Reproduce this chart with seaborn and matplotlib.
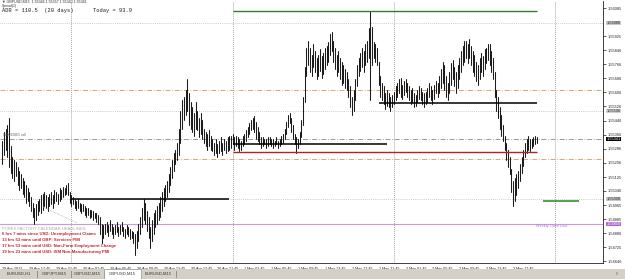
import numpy as np
import pandas as pd
import matplotlib
matplotlib.use("Agg")
import matplotlib.pyplot as plt
import seaborn as sns
from matplotlib.patches import Rectangle
from matplotlib.transforms import blended_transform_factory

# ---------------- data (GBPUSD M15, prices as pips above 1.5400) ----------------
BASE_PRICE = 1.5400
PIP = 0.0001

low_pips = [
    120, 125, 128, 124, 118, 115, 112, 110, 113, 108,
    105, 106, 103, 101, 98, 99, 96, 93, 90, 86,
    88, 91, 93, 92, 94, 96, 95, 93, 96, 97,
    95, 98, 99, 97, 99, 100, 101, 102, 103, 102,
    98, 96, 97, 95, 94, 95, 93, 92, 93, 91,
    90, 91, 89, 90, 88, 89, 87, 86, 80, 75,
    78, 80, 81, 79, 82, 80, 78, 80, 81, 79,
    80, 82, 79, 78, 80, 79, 77, 78, 75, 68,
    72, 76, 80, 84, 88, 86, 82, 78, 72, 76,
    80, 84, 86, 88, 90, 93, 96, 99, 101, 104,
    108, 112, 116, 120, 122, 125, 132, 140, 145, 148,
    150, 142, 140, 138, 136, 140, 139, 135, 137, 134,
    132, 130, 128, 130, 128, 127, 125, 126, 124, 126,
    127, 125,
    128, 126, 127, 128, 129, 131, 128, 130, 129, 127,
    128, 130, 131, 133, 135, 137, 139, 140, 138, 134,
    133, 131, 129, 130, 131, 129, 130, 131, 130, 129,
    130, 131, 129, 130, 131, 132, 134, 137, 141, 143,
    138, 134, 131, 126, 129, 131, 135, 142, 155, 170,
    176, 172, 170, 175, 172, 168, 170, 173, 169, 171,
    174, 176, 178, 182, 184, 178, 174, 170, 172, 168,
    165, 166, 163, 162, 158, 152, 148, 150, 156, 164,
    170, 173, 175, 172, 176, 178, 180, 156, 176, 180,
    178, 176, 165, 158, 156, 154, 151, 153, 152, 150,
    152, 154, 156, 158, 160, 158, 157, 159, 161, 158,
    156, 154, 155, 152, 153, 155, 157, 156, 154, 152,
    154,
    155, 158, 156, 154, 157, 160, 158, 160, 163, 166,
    162, 158, 156, 160, 165, 168, 164, 160, 163, 168,
    172, 176, 178, 180, 177, 180, 176, 172, 170, 167,
    165, 168, 172, 170, 174, 177, 179, 176, 172, 168,
    158, 150, 146, 140, 136, 133, 128, 122, 118, 114,
    104, 96, 99, 102, 106, 110, 115, 119, 124, 126,
    128, 127, 129, 130, 131, 132,
]

high_pips = [
    133, 138, 140, 142, 146, 130, 124, 122, 121, 118,
    116, 114, 112, 110, 108, 106, 104, 101, 98, 95,
    97, 99, 100, 102, 103, 104, 102, 101, 103, 104,
    102, 105, 104, 103, 106, 105, 107, 106, 108, 109,
    104, 102, 101, 100, 99, 100, 98, 97, 97, 96,
    95, 95, 94, 94, 93, 92, 92, 91, 90, 86,
    85, 86, 87, 85, 88, 86, 84, 85, 87, 84,
    85, 87, 84, 83, 85, 84, 83, 82, 81, 80,
    82, 86, 90, 95, 100, 98, 93, 90, 84, 88,
    92, 94, 96, 98, 101, 104, 106, 108, 110, 114,
    118, 122, 126, 128, 132, 140, 150, 156, 158, 162,
    168, 160, 155, 152, 149, 155, 150, 146, 149, 145,
    140, 138, 137, 139, 136, 134, 132, 134, 131, 133,
    135, 132,
    134, 133, 135, 136, 136, 137, 135, 136, 135, 134,
    133, 136, 137, 139, 141, 143, 145, 146, 147, 144,
    141, 138, 135, 135, 134, 134, 135, 135, 134, 134,
    133, 135, 133, 134, 136, 137, 140, 144, 148, 149,
    146, 142, 137, 135, 134, 138, 145, 158, 175, 186,
    190, 186, 182, 188, 184, 180, 182, 185, 181, 183,
    186, 187, 189, 194, 195, 190, 186, 182, 184, 180,
    178, 176, 174, 172, 168, 164, 158, 162, 168, 176,
    180, 183, 186, 184, 188, 190, 197, 207, 198, 189,
    188, 186, 178, 170, 166, 164, 160, 162, 160, 158,
    159, 161, 164, 166, 168, 169, 165, 167, 168, 166,
    164, 162, 163, 160, 159, 162, 164, 163, 161, 160,
    161,
    163, 166, 164, 162, 165, 167, 166, 170, 174, 178,
    176, 170, 166, 172, 177, 179, 175, 172, 176, 180,
    184, 187, 190, 190, 188, 191, 187, 184, 182, 178,
    176, 180, 183, 181, 185, 186, 188, 188, 184, 180,
    172, 162, 158, 152, 148, 142, 136, 132, 128, 124,
    117, 110, 112, 114, 116, 120, 124, 128, 132, 134,
    136, 134, 134, 135, 136, 135,
]

time_label_bars = [0, 16, 32, 48, 64, 80, 96, 112, 128, 144,
                   160, 176, 192, 208, 224, 240, 256, 272, 288, 304]
time_labels = ["29 Apr 2013", "29 Apr 17:45", "29 Apr 21:45", "30 Apr 01:45",
               "30 Apr 05:45", "30 Apr 09:45", "30 Apr 13:45", "30 Apr 17:45",
               "30 Apr 21:45", "1 May 01:45", "1 May 05:45", "1 May 09:45",
               "1 May 13:45", "1 May 17:45", "1 May 21:45", "2 May 01:45",
               "2 May 05:45", "2 May 09:45", "2 May 13:45", "2 May 17:45"]
day_start_bars = [41, 137, 233, 329]

# 1.56005 sits under the highlighted 1.56000 box in the reference, so it is not listed
price_ticks = [1.56085, 1.55925, 1.55846, 1.55766, 1.55686, 1.55606,
               1.55526, 1.55446, 1.55366, 1.55286, 1.55206, 1.55125, 1.55046,
               1.54965, 1.54885, 1.54806, 1.54725, 1.54646]
price_tick_labels = ["%.5f" % p for p in price_ticks]

round_levels = [1.5600, 1.5550, 1.5500]
pivot_levels = [1.55620, 1.55227]
bid_price = 1.55341
weekly_open = 1.54858
day_high = 1.56068
red_level = 1.55267
black_levels = [1.55545, 1.55313, 1.54998]
black_spans = [(224, 318), (137, 229), (41, 135)]
green_short = 1.54989
trade_bars = [24.2, 44.4]
trade_prices = [1.54955, 1.54864]

header_symbol = "\u25bc GBPUSD,M15  1.55346 1.55357 1.55340 1.55341"
adr_text = "ADR = 110.5  (20 days)      Today = 93.9"
news_title = "FOREX FACTORY CALENDAR HEADLINES"
news_lines = ["6 hrs 7 mins since USD: Unemployment Claims",
              "13 hrs 53 mins until GBP: Services PMI",
              "17 hrs 53 mins until USD: Non-Farm Employment Change",
              "19 hrs 23 mins until USD: ISM Non-Manufacturing PMI"]
tabs = ["EURUSD,H1", "GBPJPY,M15", "GBPUSD,M15", "GBPUSD,M15", "EURUSD,M15"]
active_tab = 3

# ---------------- figure ----------------
sns.set_style("white")
plt.rcParams['font.family'] = ['Liberation Sans', 'DejaVu Sans']

W, H = 625, 279
fig = plt.figure(figsize=(W / 100, H / 100), dpi=100)
fig.patch.set_facecolor("white")

plot_left, plot_right, plot_top, plot_bottom = 0, 603, 1, 263
ax = fig.add_axes([plot_left / W, 1 - plot_bottom / H,
                   (plot_right - plot_left) / W, (plot_bottom - plot_top) / H])
ax.set_facecolor("white")

px_per_bar = 1.68
x0 = 2.4
ax.set_xlim(-x0 / px_per_bar, (plot_right - x0) / px_per_bar)
px_per_price = 17600.0
ax.set_ylim(1.5600 - (plot_bottom - 23) / px_per_price,
            1.5600 + (23 - plot_top) / px_per_price)

n = len(low_pips)
idx = np.arange(n)
lows = BASE_PRICE + np.array(low_pips) * PIP
highs = BASE_PRICE + np.array(high_pips) * PIP
df = pd.DataFrame({
    "bar": np.repeat(idx, 2),
    "price": np.column_stack([lows, highs]).ravel(),
})
sns.lineplot(data=df, x="bar", y="price", units="bar", estimator=None,
             sort=False, color="#1c1c1c", lw=0.75, ax=ax, legend=False)

# day separators
for b in day_start_bars:
    ax.axvline(b, color="#707070", lw=0.55, ls=(0, (1, 1.6)), zorder=1)

# levels
for lv in round_levels:
    ax.axhline(lv, color="#b5b5b5", lw=0.55, ls=(0, (1, 1.5)), zorder=1)
for lv in pivot_levels:
    ax.axhline(lv, color="#d39a62", lw=0.6, ls=(0, (6, 2, 1, 2)), zorder=1)
ax.axhline(bid_price, color="#8a8a8a", lw=0.6, ls=(0, (6, 2, 1, 2)), zorder=1)
ax.axhline(weekly_open, color="#cc99e0", lw=0.8, zorder=1)
ax.hlines(day_high, 137, 318, color="#2f7d32", lw=1.0, zorder=3)
ax.hlines(red_level, 137, 318, color="#b22222", lw=1.0, zorder=3)
for lv, (a, b) in zip(black_levels, black_spans):
    ax.hlines(lv, a, b, color="black", lw=1.1, zorder=3)
ax.hlines(green_short, 322, 343, color="#1e8a1e", lw=1.1, zorder=3)
ax.plot(trade_bars, trade_prices, color="#a0a0a0", lw=0.5, ls=(0, (1, 1.2)))

# axes styling
for s in ["top", "left"]:
    ax.spines[s].set_visible(False)
ax.spines["right"].set_color("#202020")
ax.spines["right"].set_linewidth(0.6)
ax.spines["bottom"].set_color("#202020")
ax.spines["bottom"].set_linewidth(0.6)
ax.yaxis.tick_right()
ax.set_yticks(price_ticks)
ax.set_yticklabels(price_tick_labels)
ax.tick_params(axis="y", length=2, width=0.5, pad=1.5, labelsize=2.8,
               colors="#202020", direction="out")
ax.set_xticks(time_label_bars)
ax.set_xticklabels(time_labels)
ax.tick_params(axis="x", length=2, width=0.5, pad=1.2, labelsize=2.7,
               colors="#202020", direction="out")
for lbl in ax.get_xticklabels():
    lbl.set_ha("left")
ax.set_xlabel("")
ax.set_ylabel("")

# highlighted price labels on the right axis
trans = blended_transform_factory(ax.transAxes, ax.transData)
def price_box(price, text, fc, tc):
    ax.text(1.006, price, text, transform=trans, ha="left", va="center",
            fontsize=2.8, color=tc, clip_on=False, zorder=5,
            bbox=dict(boxstyle="square,pad=0.12", fc=fc, ec="none"))
price_box(1.5600, "1.56000", "#c8c8c8", "#202020")
price_box(1.5550, "1.55500", "#d0d0d0", "#202020")
price_box(bid_price, "%.5f" % bid_price, "black", "white")
price_box(1.5500, "1.55000", "#c8c8c8", "#202020")
price_box(weekly_open, "%.5f" % weekly_open, "#b463d6", "white")

# chart texts
ax.text(317.6, weekly_open - 0.00014, "Weekly Open Line", fontsize=2.8,
        color="#b070d0", ha="left", va="center")
ax.text(0.5, 1.55365, "#40032861 sell", fontsize=2.4, color="#606060",
        ha="left", va="center")

fig.text(2 / W, 1 - 2 / H, header_symbol, fontsize=2.6, color="#303030",
         ha="left", va="center")
fig.text(2 / W, 1 - 5.8 / H, "Spread(1)", fontsize=2.4, color="#303030",
         ha="left", va="center")
fig.text(2 / W, 1 - 10.5 / H, adr_text, fontsize=3.9, color="#202020",
         ha="left", va="center", family=["Liberation Mono", "DejaVu Sans Mono"])

fig.text(2 / W, 1 - 229 / H, news_title, fontsize=3.0, color="#a8a8a8",
         ha="left", va="center")
for k, line in enumerate(news_lines):
    fig.text(2 / W, 1 - (234.5 + 5.7 * k) / H, line, fontsize=3.1,
             color="#c0282d", ha="left", va="center", weight="bold")

# bottom tabs bar
fig.patches.append(Rectangle((0, 0), 1, 10 / H, transform=fig.transFigure,
                             fc="#d4d0c8", ec="none", zorder=0))
tab_edges = [0, 37, 71, 104, 141, 176]
for k, name in enumerate(tabs):
    a, b = tab_edges[k], tab_edges[k + 1]
    if k == active_tab:
        fig.patches.append(Rectangle((a / W, 0), (b - a) / W, 10 / H,
                                     transform=fig.transFigure, fc="white",
                                     ec="#808080", lw=0.4, zorder=1))
    else:
        fig.patches.append(Rectangle((b / W, 1.5 / H), 0.6 / W, 7 / H,
                                     transform=fig.transFigure, fc="#909090",
                                     ec="none", zorder=1))
    fig.text((a + b) / 2 / W, 5 / H, name, fontsize=3.0, color="#303030",
             ha="center", va="center", zorder=2)
fig.text(616 / W, 5 / H, "\u2016", fontsize=3.0, color="#707070",
         ha="center", va="center")

fig.savefig("out.png", dpi=100, facecolor="white")
